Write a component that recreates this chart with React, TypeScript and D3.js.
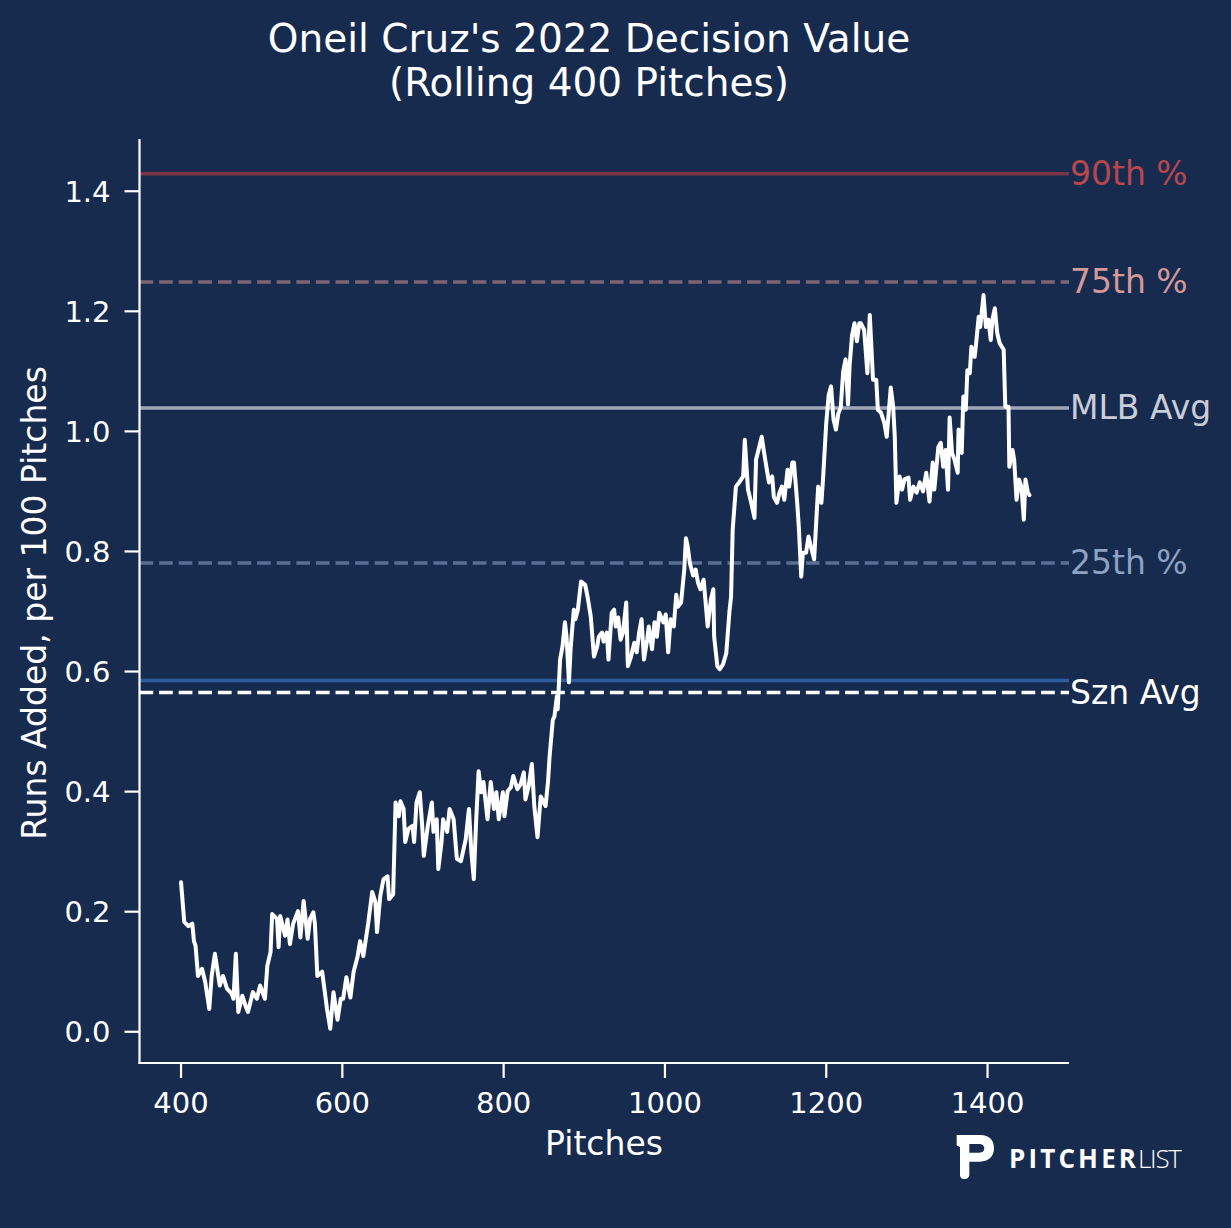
import React from "react";
import * as d3 from "d3";

// rolling 400-pitch decision value: [pitch, runs added per 100]
const rolling: [number, number][] = [
  [400, 0.249], [404, 0.183], [409, 0.176], [414, 0.18], [416, 0.151], [418, 0.143],
  [421, 0.093], [426, 0.105], [430, 0.083], [435, 0.038], [438, 0.093], [442, 0.13],
  [448, 0.077], [452, 0.093], [457, 0.072], [463, 0.063], [465, 0.055], [468, 0.13],
  [471, 0.033], [476, 0.06], [480, 0.043], [483, 0.033], [489, 0.066], [494, 0.055],
  [498, 0.077], [504, 0.055], [507, 0.11], [511, 0.133], [513, 0.196], [519, 0.188],
  [521, 0.141], [523, 0.193], [529, 0.16], [532, 0.187], [535, 0.146], [539, 0.18],
  [545, 0.201], [548, 0.157], [552, 0.218], [557, 0.155], [560, 0.188], [564, 0.199],
  [566, 0.18], [569, 0.093], [575, 0.1], [581, 0.038], [585, 0.005], [589, 0.066],
  [594, 0.02], [598, 0.055], [601, 0.055], [605, 0.091], [610, 0.057], [614, 0.1],
  [619, 0.126], [622, 0.151], [626, 0.126], [632, 0.18], [637, 0.233], [641, 0.216],
  [643, 0.166], [647, 0.226], [651, 0.254], [656, 0.259], [658, 0.221], [663, 0.229],
  [666, 0.382], [670, 0.359], [672, 0.384], [676, 0.371], [678, 0.316], [682, 0.338],
  [687, 0.343], [689, 0.316], [692, 0.382], [696, 0.399], [699, 0.343], [701, 0.293],
  [706, 0.343], [711, 0.382], [713, 0.333], [717, 0.354], [719, 0.271], [723, 0.316],
  [725, 0.354], [730, 0.333], [733, 0.371], [738, 0.354], [742, 0.288], [747, 0.284],
  [753, 0.321], [757, 0.371], [760, 0.299], [763, 0.254], [766, 0.354], [769, 0.434],
  [772, 0.399], [775, 0.416], [780, 0.354], [784, 0.416], [788, 0.371], [791, 0.399],
  [794, 0.354], [799, 0.399], [801, 0.359], [805, 0.401], [809, 0.407], [812, 0.426],
  [817, 0.404], [821, 0.412], [825, 0.432], [827, 0.387], [831, 0.409], [835, 0.446],
  [838, 0.376], [842, 0.324], [846, 0.392], [852, 0.376], [855, 0.416], [857, 0.459],
  [861, 0.52], [863, 0.525], [866, 0.559], [867, 0.537], [870, 0.62], [873, 0.642],
  [876, 0.682], [878, 0.658], [881, 0.582], [883, 0.637], [887, 0.703], [889, 0.687],
  [892, 0.703], [896, 0.75], [901, 0.745], [904, 0.725], [908, 0.692], [912, 0.625],
  [916, 0.642], [918, 0.658], [922, 0.665], [924, 0.65], [928, 0.665], [930, 0.62],
  [934, 0.698], [937, 0.703], [939, 0.675], [942, 0.69], [945, 0.653], [948, 0.665],
  [952, 0.715], [954, 0.609], [958, 0.625], [962, 0.648], [965, 0.632], [968, 0.665],
  [971, 0.687], [974, 0.62], [978, 0.653], [980, 0.675], [984, 0.637], [987, 0.682],
  [990, 0.658], [993, 0.698], [998, 0.682], [1001, 0.695], [1004, 0.632], [1007, 0.687],
  [1011, 0.675], [1014, 0.728], [1016, 0.708], [1020, 0.715], [1024, 0.77], [1026, 0.822],
  [1028, 0.81], [1031, 0.78], [1035, 0.76], [1038, 0.77], [1041, 0.748], [1044, 0.737],
  [1048, 0.753], [1053, 0.675], [1057, 0.72], [1060, 0.737], [1061, 0.658], [1065, 0.609],
  [1068, 0.604], [1072, 0.612], [1076, 0.63], [1080, 0.7], [1082, 0.725], [1084, 0.836],
  [1088, 0.908], [1092, 0.915], [1097, 0.925], [1099, 0.986], [1103, 0.903], [1107, 0.881],
  [1111, 0.856], [1113, 0.953], [1116, 0.969], [1120, 0.991], [1123, 0.964], [1127, 0.931],
  [1129, 0.915], [1133, 0.925], [1135, 0.891], [1139, 0.881], [1142, 0.898], [1145, 0.908],
  [1148, 0.886], [1152, 0.936], [1154, 0.908], [1158, 0.948], [1160, 0.948], [1164, 0.881],
  [1166, 0.841], [1169, 0.758], [1171, 0.798], [1175, 0.798], [1178, 0.825], [1181, 0.808],
  [1185, 0.787], [1190, 0.908], [1194, 0.881], [1196, 0.92], [1200, 1.014], [1203, 1.06],
  [1206, 1.075], [1209, 1.02], [1212, 1.003], [1215, 1.03], [1218, 1.04], [1221, 1.1],
  [1224, 1.12], [1227, 1.045], [1229, 1.11], [1232, 1.16], [1235, 1.18], [1238, 1.15],
  [1241, 1.18], [1243, 1.18], [1247, 1.169], [1251, 1.097], [1254, 1.194], [1258, 1.086],
  [1262, 1.086], [1264, 1.036], [1268, 1.031], [1272, 1.014], [1275, 0.991], [1277, 1.024],
  [1280, 1.073], [1283, 1.041], [1285, 0.991], [1287, 0.881], [1291, 0.925], [1294, 0.903],
  [1297, 0.92], [1302, 0.923], [1304, 0.886], [1308, 0.908], [1312, 0.898], [1316, 0.915],
  [1320, 0.9], [1324, 0.931], [1328, 0.883], [1332, 0.948], [1334, 0.903], [1339, 0.974],
  [1342, 0.981], [1345, 0.941], [1348, 0.969], [1351, 0.903], [1353, 1.023], [1356, 0.964],
  [1359, 0.953], [1363, 0.931], [1364, 1.003], [1368, 0.964], [1370, 1.058], [1373, 1.036],
  [1375, 1.102], [1378, 1.097], [1380, 1.141], [1384, 1.124], [1386, 1.149], [1389, 1.191],
  [1391, 1.174], [1395, 1.227], [1398, 1.174], [1401, 1.186], [1404, 1.152], [1406, 1.186],
  [1409, 1.205], [1412, 1.164], [1415, 1.147], [1420, 1.136], [1422, 1.041], [1426, 1.041],
  [1427, 0.941], [1431, 0.969], [1433, 0.953], [1436, 0.886], [1439, 0.92], [1442, 0.908],
  [1445, 0.853], [1447, 0.92], [1450, 0.898], [1452, 0.894],
];

const refLabels = ["90th %", "75th %", "MLB Avg", "25th %"];
const refValues = [1.429, 1.249, 1.039, 0.781];
const seasonAvg = 0.565;
const seasonLine = 0.585;

const xTicks = [400, 600, 800, 1000, 1200, 1400];
const yTicks = [0, 0.2, 0.4, 0.6, 0.8, 1.0, 1.2, 1.4];

const titleLines = ["Oneil Cruz's 2022 Decision Value", "(Rolling 400 Pitches)"];

const BG = "#172b4f";
const FONT = "'DejaVu Sans', sans-serif";

// how each reference line looks
const refStyle: Record<string, { line: string; text: string; dash?: string }> = {
  "90th %": { line: "#7a3446", text: "#b8464d" },
  "75th %": { line: "#7e6474", text: "#d59898", dash: "13.7,5.9" },
  "MLB Avg": { line: "#a1a8b8", text: "#c9cdd8" },
  "25th %": { line: "#5b6f94", text: "#8ea2c3", dash: "13.7,5.9" },
};

export default function App() {
  const width = 1231;
  const height = 1228;
  const left = 139.5, right = 1069, top = 139, bottom = 1063;

  const x = d3.scaleLinear().domain([348.5, 1501]).range([left, right]);
  const y = d3.scaleLinear().domain([-0.052, 1.487]).range([bottom, top]);

  const line = d3
    .line<[number, number]>()
    .x((d) => x(d[0]))
    .y((d) => y(d[1]));

  return (
    <svg
      width={width}
      height={height}
      style={{ position: "absolute", left: 0, top: 0, background: BG }}
      fontFamily={FONT}
    >
      <rect width={width} height={height} fill={BG} />

      {/* title */}
      {titleLines.map((t, i) => (
        <text key={t} x={589} y={52 + i * 44} fill="#fff" fontSize={39} textAnchor="middle">
          {t}
        </text>
      ))}

      {/* reference lines */}
      {refLabels.map((lab, i) => {
        const s = refStyle[lab];
        return (
          <g key={lab}>
            <line
              x1={left} x2={right} y1={y(refValues[i])} y2={y(refValues[i])}
              stroke={s.line} strokeWidth={3.5} strokeDasharray={s.dash}
            />
            <text x={right + 1} y={y(refValues[i])} dy="0.34em" fill={s.text} fontSize={33}>
              {lab}
            </text>
          </g>
        );
      })}
      <line x1={left} x2={right} y1={y(seasonLine)} y2={y(seasonLine)} stroke="#2e5c9f" strokeWidth={3.5} />
      <line
        x1={left} x2={right} y1={y(seasonAvg)} y2={y(seasonAvg)}
        stroke="#fff" strokeWidth={3.5} strokeDasharray="13.7,5.9"
      />
      <text x={right + 1} y={y(seasonAvg)} dy="0.34em" fill="#fff" fontSize={33}>
        Szn Avg
      </text>

      {/* data */}
      <path d={line(rolling) ?? ""} fill="none" stroke="#fff" strokeWidth={4} strokeLinejoin="round" strokeLinecap="round" />

      {/* axes */}
      <line x1={left} x2={left} y1={top} y2={bottom + 1} stroke="#fff" strokeWidth={2.2} />
      <line x1={left - 1} x2={right} y1={bottom} y2={bottom} stroke="#fff" strokeWidth={2.2} />
      {yTicks.map((t) => (
        <g key={t} transform={`translate(0,${y(t)})`}>
          <line x1={left - 15} x2={left} stroke="#fff" strokeWidth={2.2} />
          <text x={left - 29} dy="0.36em" fill="#fff" fontSize={29} textAnchor="end">
            {d3.format(".1f")(t)}
          </text>
        </g>
      ))}
      {xTicks.map((t) => (
        <g key={t} transform={`translate(${x(t)},0)`}>
          <line y1={bottom} y2={bottom + 15} stroke="#fff" strokeWidth={2.2} />
          <text y={1113} fill="#fff" fontSize={29} textAnchor="middle">
            {t}
          </text>
        </g>
      ))}

      {/* axis labels */}
      <text x={604} y={1155} fill="#fff" fontSize={33} textAnchor="middle">
        Pitches
      </text>
      <text
        transform={`translate(46,${(top + bottom) / 2 + 2}) rotate(-90)`}
        fill="#fff" fontSize={33} textAnchor="middle"
      >
        Runs Added, per 100 Pitches
      </text>

      {/* logo */}
      <g transform="translate(940,1120) scale(0.3333)" fill="#fff">
        <path
          fillRule="evenodd"
          d="M50,45 L120,45 C150,45 162,62 162,85 C162,110 145,125 120,125 L88,125 L88,165 C88,172 82,177 75,177 L70,177 C64,177 60,172 60,165 L60,82 L50,76 Z M88,72 L118,72 C128,72 133,78 133,85 C133,93 128,98 118,98 L88,98 Z"
        />
      </g>
      <text x={1009} y={1168} fill="#fff" fontFamily="'Open Sans', sans-serif" fontSize={26} fontWeight={700} textLength={127} lengthAdjust="spacing">
        PITCHER
      </text>
      <text x={1138} y={1168} fill="#fff" fontFamily="'Open Sans', sans-serif" fontSize={26} fontWeight={300} textLength={44} lengthAdjust="spacing">
        LIST
      </text>
    </svg>
  );
}
